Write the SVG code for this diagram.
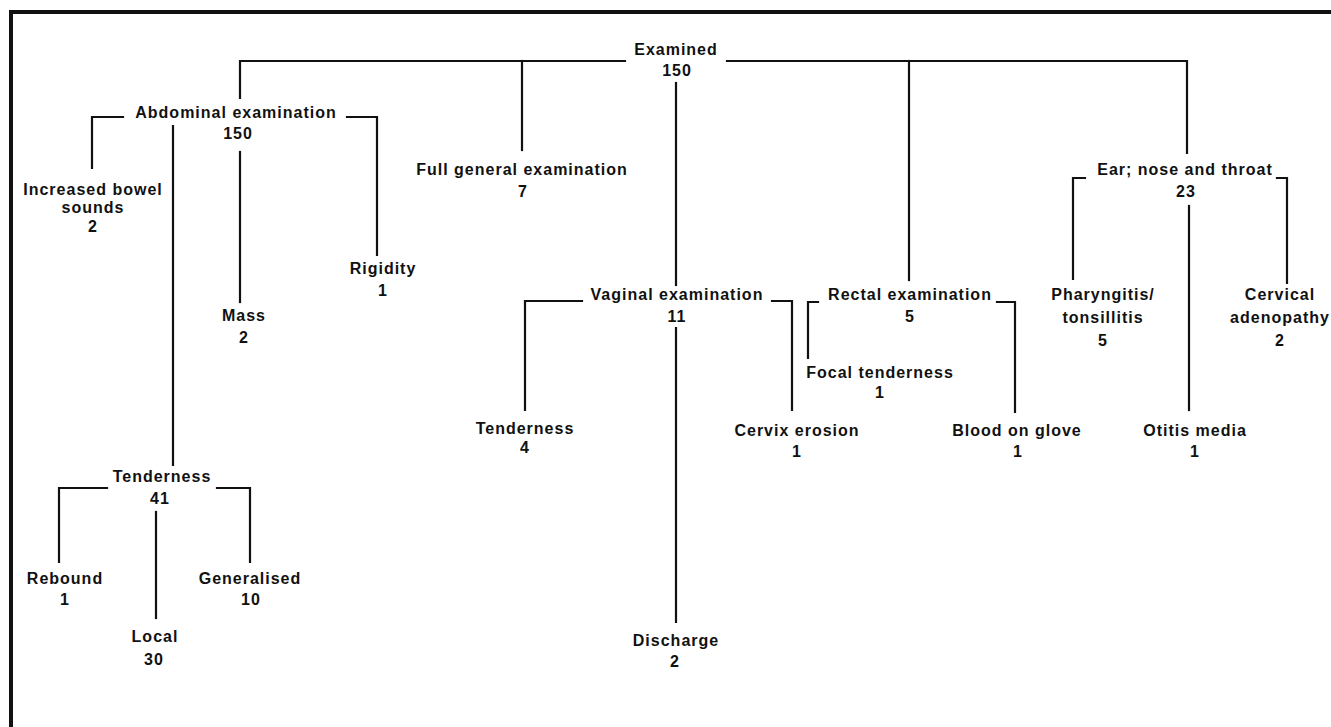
<svg xmlns="http://www.w3.org/2000/svg" width="1331" height="727" viewBox="0 0 1331 727">
<style>
text{font-family:"Liberation Sans",Arial,sans-serif;font-size:16px;font-weight:bold;letter-spacing:1px;fill:#111;text-anchor:middle}
.c{fill:none;stroke:#111;stroke-width:2.2;stroke-linecap:square}
.b{fill:none;stroke:#111;stroke-width:4}
</style>
<rect width="1331" height="727" fill="#fff"/>
<path class="b" d="M11,727 V12 H1331"/>
<g id="connectors">
<path class="c" d="M240,98 V61 H625"/>
<path class="c" d="M727,61 H1187 V153"/>
<path class="c" d="M522,61 V150"/>
<path class="c" d="M909,61 V280"/>
<path class="c" d="M676,83 V285"/>
<path class="c" d="M123,117 H92 V168"/>
<path class="c" d="M347,117 H377 V255"/>
<path class="c" d="M173,126 V465"/>
<path class="c" d="M240,152 V302"/>
<path class="c" d="M107,488 H59 V562"/>
<path class="c" d="M217,488 H250 V562"/>
<path class="c" d="M156,512 V618"/>
<path class="c" d="M582,301 H525 V410"/>
<path class="c" d="M772,301 H792 V410"/>
<path class="c" d="M676,328 V622"/>
<path class="c" d="M818,302 H808 V358"/>
<path class="c" d="M997,302 H1015 V412"/>
<path class="c" d="M1085,178 H1073 V279"/>
<path class="c" d="M1277,178 H1287 V283"/>
<path class="c" d="M1189,206 V410"/>
</g>
<g id="examined"><text x="676" y="55">Examined</text><text x="677" y="76">150</text></g>
<g id="abdominal"><text x="236" y="118">Abdominal examination</text><text x="238" y="139">150</text></g>
<g id="bowel"><text x="93" y="195">Increased bowel</text><text x="93" y="213">sounds</text><text x="93" y="232">2</text></g>
<g id="mass"><text x="244" y="321">Mass</text><text x="244" y="343">2</text></g>
<g id="rigidity"><text x="383" y="274">Rigidity</text><text x="383" y="296">1</text></g>
<g id="fullgeneral"><text x="522" y="175">Full general examination</text><text x="523" y="197">7</text></g>
<g id="vaginal"><text x="677" y="300">Vaginal examination</text><text x="677" y="322">11</text></g>
<g id="vtenderness"><text x="525" y="434">Tenderness</text><text x="525" y="453">4</text></g>
<g id="discharge"><text x="676" y="646">Discharge</text><text x="675" y="667">2</text></g>
<g id="cervix"><text x="797" y="436">Cervix erosion</text><text x="797" y="457">1</text></g>
<g id="rectal"><text x="910" y="300">Rectal examination</text><text x="910" y="322">5</text></g>
<g id="focal"><text x="880" y="378">Focal tenderness</text><text x="880" y="398">1</text></g>
<g id="blood"><text x="1017" y="436">Blood on glove</text><text x="1018" y="457">1</text></g>
<g id="ent"><text x="1185" y="175">Ear; nose and throat</text><text x="1186" y="197">23</text></g>
<g id="pharyngitis"><text x="1103" y="300">Pharyngitis/</text><text x="1103" y="323">tonsillitis</text><text x="1103" y="346">5</text></g>
<g id="cervical"><text x="1280" y="300">Cervical</text><text x="1280" y="323">adenopathy</text><text x="1280" y="346">2</text></g>
<g id="otitis"><text x="1195" y="436">Otitis media</text><text x="1195" y="457">1</text></g>
<g id="tenderness41"><text x="162" y="482">Tenderness</text><text x="160" y="504">41</text></g>
<g id="rebound"><text x="65" y="584">Rebound</text><text x="65" y="605">1</text></g>
<g id="local"><text x="155" y="642">Local</text><text x="154" y="665">30</text></g>
<g id="generalised"><text x="250" y="584">Generalised</text><text x="251" y="605">10</text></g>
</svg>
